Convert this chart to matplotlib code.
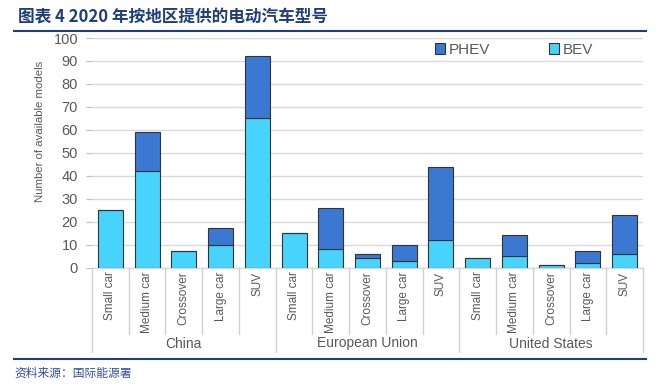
import matplotlib
matplotlib.use("Agg")
import matplotlib.pyplot as plt
import matplotlib.transforms as mtransforms
from matplotlib.lines import Line2D
import numpy as np

plt.rcParams['font.family'] = ['Liberation Sans', 'Noto Sans CJK SC', 'DejaVu Sans']

regions = ["China", "European Union", "United States"]
car_types = ["Small car", "Medium car", "Crossover", "Large car", "SUV"]
bev = [25, 42, 7, 10, 65,
       15, 8, 4, 3, 12,
       4, 5, 1, 2, 6]
phev = [0, 17, 0, 7, 27,
        0, 18, 2, 7, 32,
        0, 9, 0, 5, 17]
yticks = [0, 10, 20, 30, 40, 50, 60, 70, 80, 90, 100]

title = "图表 4 2020 年按地区提供的电动汽车型号"
source = "资料来源：国际能源署"
ylabel = "Number of available models"

c_phev = "#3B78D2"
c_bev = "#47D3FB"
navy = "#1F3F7A"
grey = "#595959"

W, H = 659, 387
fig = plt.figure(figsize=(W / 100, H / 100), dpi=100)
ax = fig.add_axes([92 / W, 1 - 267.5 / H, (643 - 92) / W, (267.5 - 38) / H])

n = len(bev)
x = np.arange(n)
ax.bar(x, bev, width=0.68, color=c_bev, edgecolor="#333333", linewidth=0.8, label="BEV", zorder=3)
ax.bar(x, phev, width=0.68, bottom=bev, color=c_phev, edgecolor="#333333", linewidth=0.8,
       label="PHEV", zorder=3)

ax.set_xlim(-0.5, n - 0.5)
ax.set_ylim(0, 100)
ax.set_yticks(yticks)
ax.tick_params(axis='y', length=4, color="#BFBFBF", labelsize=10.5, labelcolor=grey, pad=6)
ax.set_xticks([])
ax.yaxis.grid(True, color="#D9D9D9", linewidth=1.0, zorder=0)
for s in ["left", "right", "top"]:
    ax.spines[s].set_visible(False)
ax.spines["bottom"].set_color("#D9D9D9")
ax.spines["bottom"].set_linewidth(1.0)

fig.text(40 / W, 1 - 131 / H, ylabel, rotation=90, fontsize=8.2, color=grey,
         ha='center', va='center')

# category labels and separators
trans = mtransforms.blended_transform_factory(ax.transData, ax.transAxes)
ax_h = (267.5 - 38)
def ypix(p):
    return -p / ax_h

labels_all = car_types * len(regions)
for i, lab in enumerate(labels_all):
    ax.text(i, ypix(4), lab, rotation=90, ha='center', va='top', fontsize=8.5,
            color=grey, transform=trans)
for b in range(n + 1):
    xb = b - 0.5
    depth = 84 if b % 5 == 0 else 66
    ax.add_line(Line2D([xb, xb], [0, ypix(depth)], transform=trans, color="#D0D0D0",
                       linewidth=1.0, clip_on=False))
for g, reg in enumerate(regions):
    ax.text(g * 5 + 2, ypix(76), reg, ha='center', va='center', fontsize=10,
            color=grey, transform=trans)

# legend
h, l = ax.get_legend_handles_labels()
leg = ax.legend([h[1], h[0]], [l[1], l[0]], loc='center', bbox_to_anchor=(0.766, 0.948),
                ncol=2, frameon=False, fontsize=11, handlelength=0.7, handleheight=0.7,
                columnspacing=3.8, handletextpad=0.25, borderpad=0, borderaxespad=0)
for t in leg.get_texts():
    t.set_color(grey)

# title and decorations
fig.text(18 / W, 1 - 18 / H, title, fontsize=12, fontweight='bold', color=navy,
         family=['Noto Sans CJK SC', 'DejaVu Sans'], va='center', ha='left')
fig.add_artist(Line2D([14 / W, 646 / W], [1 - 31 / H, 1 - 31 / H], color=navy, linewidth=1.5))
fig.add_artist(Line2D([14 / W, 646 / W], [1 - 359 / H, 1 - 359 / H], color=navy, linewidth=1.5))
fig.text(14 / W, 1 - 373 / H, source, fontsize=8.5, color="#2F4F9F", style='italic',
         family=['Noto Sans CJK SC', 'DejaVu Sans'], va='center', ha='left')

fig.savefig("out.png", dpi=100)
